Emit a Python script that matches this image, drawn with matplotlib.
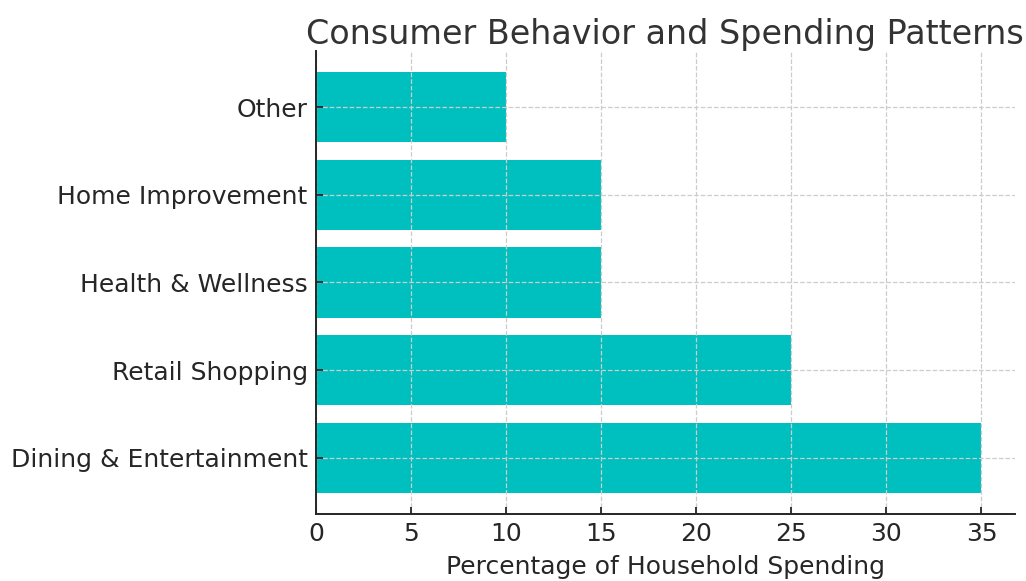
import matplotlib.pyplot as plt

categories = ["Dining & Entertainment", "Retail Shopping", "Health & Wellness",
              "Home Improvement", "Other"]
spending = [35, 25, 15, 15, 10]

text_color = "#262626"

fig = plt.figure(figsize=(10.26, 5.81), dpi=100)
ax = fig.add_axes([0.308, 0.1153, 0.681, 0.797])

ax.barh(categories, spending, color="#00BFBF", zorder=1)
ax.grid(True, linestyle="--", color="#cccccc", linewidth=0.9, zorder=2)
ax.set_axisbelow(False)

ax.set_title("Consumer Behavior and Spending Patterns", fontsize=24, color="#333333", pad=5)
ax.set_xlabel("Percentage of Household Spending", fontsize=18, color=text_color, labelpad=6)

ax.tick_params(axis="both", labelsize=18, colors=text_color, direction="in", length=5, width=1.3)
ax.tick_params(axis="y", pad=6)
ax.tick_params(axis="x", pad=6)
for side in ["top", "right"]:
    ax.spines[side].set_visible(False)
for side in ["left", "bottom"]:
    ax.spines[side].set_linewidth(1.4)
    ax.spines[side].set_color(text_color)
    ax.spines[side].set_zorder(4)

plt.savefig("out.png", dpi=100)
